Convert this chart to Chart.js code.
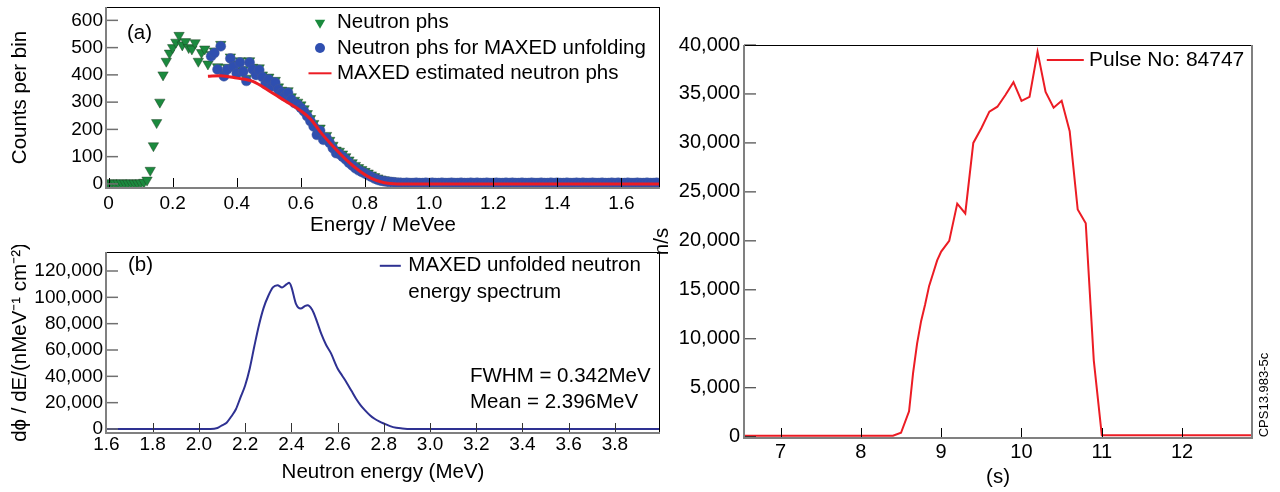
<!DOCTYPE html>
<html>
<head>
<meta charset="utf-8">
<script src="https://cdn.jsdelivr.net/npm/chart.js@4.4.1/dist/chart.umd.min.js"></script>
<style>
  html, body { margin: 0; padding: 0; background: #fff; }
  #figure { position: relative; width: 1280px; height: 492px; overflow: hidden; }
  canvas { position: absolute; }
  #phs { left: 0; top: 0; }
  #spectrum { left: 0; top: 245px; }
  #pulse { left: 640px; top: 0; }
</style>
</head>
<body>
<div id="figure">
  <canvas id="phs" width="670" height="245"></canvas>
  <canvas id="spectrum" width="670" height="247"></canvas>
  <canvas id="pulse" width="640" height="492"></canvas>
</div>
<script>
// (a) pulse height spectrum, one value per 0.01 MeVee bin starting at 0
var BIN_WIDTH = 0.01;
var PHS_COUNTS = [
  3, 4, 3, 3, 4, 3, 3, 4, 3, 3, 4,
  6, 14, 50, 140, 225, 300, 400, 450, 480, 500,
  520, 545, 510, 522, 500, 495, 518, 450, 482, 495, 440,
  475, 488, 430, 512, 405, 428, 466, 440, 414, 452,
  420, 388, 452, 428, 410, 426, 400, 376, 392, 368,
  380, 356, 344, 332, 342, 320, 307, 300, 290, 276,
  258, 240, 222, 192, 205, 174, 178, 160, 142, 124,
  120, 110, 100, 88, 78, 68, 60, 53, 46, 40,
  33, 27, 22, 18, 15, 13, 11, 10,
  9, 8, 8, 7, 8, 7, 7, 8, 6, 7,
  7, 8, 7, 6, 7, 8, 7, 7, 6, 7,
  8, 7, 6, 7, 7, 8, 7, 6, 7, 7,
  6, 7, 8, 7, 7, 6, 7, 7, 8, 7,
  6, 7, 7, 6, 7, 8, 7, 7, 6, 7,
  7, 8, 7, 6, 7, 7, 6, 7, 8, 7,
  7, 6, 7, 7, 8, 7, 6, 7, 7, 6,
  7, 8, 7, 7, 6, 7, 7, 8, 7, 6,
  7, 7
];
// bins used for the MAXED unfolding start at 0.32 MeVee
var UNFOLD_FIRST_BIN = 32;
var UNFOLD_COUNTS = [
  468, 480, 420, 505, 395, 420, 460, 430, 405, 445,
  412, 378, 445, 420, 400, 418, 392, 366, 383, 358,
  372, 346, 334, 322, 334, 310, 297, 291, 279, 266,
  248, 230, 211, 180, 195, 162, 168, 150, 131, 113,
  110, 100, 90, 78, 68, 58, 50, 44, 38, 32,
  26, 20, 15, 12, 10, 8, 7, 6,
  4, 4, 3, 4, 3, 3, 4, 3, 3, 4,
  3, 4, 3, 3, 4, 3, 3, 4, 3, 3,
  4, 3, 3, 4, 3, 4, 3, 3, 4, 3,
  3, 4, 3, 3, 4, 3, 4, 3, 3, 4,
  3, 3, 4, 3, 3, 4, 3, 3, 4, 3,
  4, 3, 3, 4, 3, 3, 4, 3, 4, 3,
  3, 4, 3, 3, 4, 3, 3, 4, 3, 4,
  3, 3, 4, 3, 3, 4, 3, 3, 4, 3,
  3, 4
];
var MAXED_E = [0.31, 0.35, 0.40, 0.45, 0.50, 0.55, 0.60, 0.63, 0.66, 0.70, 0.74, 0.78, 0.82, 0.86, 0.90, 1.0, 1.2, 1.4, 1.6, 1.72];
var MAXED_COUNTS = [395, 397, 388, 376, 342, 305, 268, 238, 192, 138, 90, 50, 20, 4, 0, 0, 0, 0, 0, 0];
var PHS_X_TICKS = [0, 0.2, 0.4, 0.6, 0.8, 1.0, 1.2, 1.4, 1.6];
var PHS_Y_TICKS = [0, 100, 200, 300, 400, 500, 600];

// (b) unfolded neutron energy spectrum
var SPEC_E = [1.6, 1.8, 2.0, 2.05, 2.08, 2.10, 2.12, 2.14, 2.16, 2.18, 2.20, 2.22, 2.24, 2.26, 2.28, 2.30,
  2.32, 2.34, 2.36, 2.38, 2.39, 2.40, 2.42, 2.44, 2.46, 2.47, 2.49, 2.51, 2.53, 2.55, 2.57, 2.60,
  2.62, 2.64, 2.66, 2.68, 2.70, 2.72, 2.74, 2.76, 2.78, 2.80, 2.84, 2.88, 2.92, 3.0, 3.5, 4.0];
var SPEC_FLUX = [0, 0, 0, 0, 800, 2800, 4800, 9500, 15000, 24000, 33000, 46000, 63000, 79000, 92000, 101000,
  107500, 109200, 107500, 110000, 111000, 108000, 95000, 91500, 93500, 94000, 90500, 82000, 72000, 64000, 58000, 46000,
  40500, 35000, 29000, 23000, 18000, 14000, 10500, 7800, 5800, 4200, 1400, 400, 0, 0, 0, 0];
var SPEC_X_TICKS = [1.6, 1.8, 2.0, 2.2, 2.4, 2.6, 2.8, 3.0, 3.2, 3.4, 3.6, 3.8];
var SPEC_Y_TICKS = [0, 20000, 40000, 60000, 80000, 100000, 120000];

// (c) neutron rate for pulse 84747
var PULSE_T = [6.5, 7.0, 7.5, 8.0, 8.4, 8.5, 8.6, 8.65, 8.7, 8.75, 8.8, 8.85, 8.9, 8.95, 9.0,
  9.1, 9.2, 9.3, 9.4, 9.5, 9.6, 9.7, 9.8, 9.9, 10.0, 10.1, 10.2, 10.3, 10.4, 10.5, 10.6,
  10.7, 10.8, 10.9, 11.0, 11.5, 12.0, 12.5, 12.9];
var PULSE_RATE = [100, 100, 100, 100, 100, 400, 2600, 6500, 9500, 11800, 13500, 15400, 16700, 18000, 18900,
  20000, 23800, 22800, 30000, 31500, 33200, 33700, 34900, 36200, 34300, 34700, 39300, 35200, 33600, 34300, 31200,
  23200, 21800, 7800, 150, 150, 150, 150, 150];
var PULSE_X_TICKS = [7, 8, 9, 10, 11, 12];
var PULSE_Y_TICKS = [0, 5000, 10000, 15000, 20000, 25000, 30000, 35000, 40000];

var GREEN = "#1b8a3e";
var BLUE = "#2f4fb0";
var RED = "#ec1c24";
var NAVY = "#2e3192";
var AXIS_GRAY = "#808080";
var FONT = "'Liberation Sans', Arial, Helvetica, sans-serif";

Chart.defaults.font.family = FONT;
Chart.defaults.color = "#000";

function pairs(xs, ys) {
    return xs.map(function (x, i) { return { x: x, y: ys[i] }; });
}

function binned(counts, firstBin) {
    return counts.map(function (c, i) { return { x: (firstBin + i) * BIN_WIDTH, y: c }; });
}

// left/bottom gray axes, thin black top/right edges, ticks pointing inward
var framePlugin = {
    id: "frame",
    afterDatasetsDraw: function (chart, args, opts) {
        var ctx = chart.ctx, a = chart.chartArea;
        var xs = chart.scales.x, ys = chart.scales.y;
        ctx.save();
        ctx.lineWidth = 1;
        ctx.strokeStyle = opts.xTickColor;
        xs.ticks.forEach(function (t) {
            var px = Math.round(xs.getPixelForValue(t.value)) + 0.5;
            ctx.beginPath();
            ctx.moveTo(px, a.bottom);
            ctx.lineTo(px, a.bottom - opts.xTickLength);
            ctx.stroke();
        });
        ctx.lineWidth = opts.yTickWidth;
        ctx.strokeStyle = opts.yTickColor;
        ys.ticks.forEach(function (t) {
            var py = ys.getPixelForValue(t.value);
            ctx.beginPath();
            ctx.moveTo(a.left, py);
            ctx.lineTo(a.left + opts.yTickLength, py);
            ctx.stroke();
        });
        ctx.lineWidth = 1;
        ctx.strokeStyle = "#000";
        ctx.beginPath();
        ctx.moveTo(a.left, a.top + 0.5);
        ctx.lineTo(a.right, a.top + 0.5);
        if (!opts.rightAxis) {
            ctx.moveTo(a.right - 0.5, a.top);
            ctx.lineTo(a.right - 0.5, a.bottom);
        }
        ctx.stroke();
        ctx.lineWidth = 2;
        ctx.strokeStyle = AXIS_GRAY;
        ctx.beginPath();
        ctx.moveTo(a.left, a.top);
        ctx.lineTo(a.left, a.bottom);
        ctx.lineTo(a.right, a.bottom);
        if (opts.rightAxis) {
            ctx.lineTo(a.right, a.top);
        }
        ctx.stroke();
        ctx.restore();
    },
};

function drawKey(ctx, ds, x, y, width) {
    ctx.save();
    if (ds.showLine === false) {
        var r = ds.pointRadius;
        ctx.fillStyle = ds.pointBackgroundColor;
        ctx.beginPath();
        if (ds.pointStyle === "triangle") {
            ctx.moveTo(x, y + r);
            ctx.lineTo(x - r * 0.866, y - r / 2);
            ctx.lineTo(x + r * 0.866, y - r / 2);
            ctx.closePath();
        } else {
            ctx.arc(x, y, r, 0, Math.PI * 2);
        }
        ctx.fill();
    } else {
        ctx.strokeStyle = ds.borderColor;
        ctx.lineWidth = 2;
        ctx.beginPath();
        ctx.moveTo(x - width / 2, y);
        ctx.lineTo(x + width / 2, y);
        ctx.stroke();
    }
    ctx.restore();
}

var insetLegendPlugin = {
    id: "insetLegend",
    afterDraw: function (chart, args, opts) {
        if (opts.x === undefined) {
            return;
        }
        var ctx = chart.ctx;
        var y = opts.y;
        ctx.save();
        ctx.font = opts.font;
        ctx.fillStyle = "#000";
        ctx.textAlign = "left";
        ctx.textBaseline = "middle";
        chart.data.datasets.forEach(function (ds) {
            var lines = [].concat(ds.label);
            drawKey(ctx, ds, opts.x, y, opts.keyWidth);
            lines.forEach(function (line, k) {
                ctx.fillText(line, opts.x + opts.textGap, y + k * opts.lineHeight);
            });
            y += lines.length * opts.lineHeight;
        });
        ctx.restore();
    },
};

var notesPlugin = {
    id: "notes",
    afterDraw: function (chart, args, opts) {
        var ctx = chart.ctx;
        (opts.items || []).forEach(function (n) {
            ctx.save();
            ctx.font = n.font;
            ctx.fillStyle = "#000";
            ctx.textAlign = n.align || "left";
            ctx.textBaseline = "middle";
            ctx.translate(n.x, n.y);
            if (n.rotate) {
                ctx.rotate(n.rotate);
            }
            ctx.fillText(n.text, 0, 0);
            ctx.restore();
        });
    },
};

Chart.register(framePlugin, insetLegendPlugin, notesPlugin);

function linearAxis(cfg) {
    var horizontal = cfg.horizontal;
    return {
        type: "linear",
        min: cfg.min,
        max: cfg.max,
        grid: { display: false, drawTicks: false },
        border: { display: false },
        afterBuildTicks: function (scale) {
            scale.ticks = cfg.ticks.map(function (v) { return { value: v }; });
        },
        ticks: {
            autoSkip: false,
            maxRotation: 0,
            padding: cfg.tickPadding,
            font: { size: cfg.tickSize },
            callback: cfg.format,
        },
        title: {
            display: true,
            text: cfg.title,
            align: cfg.titleAlign || "center",
            font: { size: cfg.titleSize },
            padding: horizontal ? { top: 0, bottom: cfg.titlePadding } : { top: cfg.titlePadding, bottom: 0 },
        },
        afterFit: function (scale) {
            if (horizontal) {
                scale.height = cfg.size;
                scale.paddingLeft = 0;
                scale.paddingRight = 0;
            } else {
                scale.width = cfg.size;
                scale.paddingTop = 0;
                scale.paddingBottom = 0;
            }
        },
    };
}

function decimal(v) {
    return Math.abs(v) < 1e-9 ? "0" : v.toFixed(1);
}

function thousands(v) {
    return Math.round(v).toLocaleString("en-US");
}

function plain(v) {
    return String(v);
}

var baseOptions = {
    responsive: false,
    animation: false,
    events: [],
};

new Chart(document.getElementById("phs"), {
    type: "scatter",
    data: {
        datasets: [
            {
                label: "Neutron phs",
                data: binned(PHS_COUNTS, 0),
                showLine: false,
                pointStyle: "triangle",
                pointRotation: 180,
                pointRadius: 6,
                pointBackgroundColor: GREEN,
                pointBorderColor: "rgba(30,60,35,0.45)",
                pointBorderWidth: 1,
                order: 3,
            },
            {
                label: "Neutron phs for MAXED unfolding",
                data: binned(UNFOLD_COUNTS, UNFOLD_FIRST_BIN),
                showLine: false,
                pointStyle: "circle",
                pointRadius: 5,
                pointBackgroundColor: BLUE,
                pointBorderColor: "rgba(70,90,150,0.45)",
                pointBorderWidth: 1,
                order: 2,
            },
            {
                label: "MAXED estimated neutron phs",
                data: pairs(MAXED_E, MAXED_COUNTS),
                showLine: true,
                borderColor: RED,
                borderWidth: 3,
                pointRadius: 0,
                cubicInterpolationMode: "monotone",
                order: 1,
            },
        ],
    },
    options: Object.assign({}, baseOptions, {
        layout: { padding: { top: 7, right: 10, bottom: 0, left: 0 } },
        scales: {
            x: linearAxis({ horizontal: true, min: -0.008, max: 1.7205, ticks: PHS_X_TICKS, tickPadding: 4, tickSize: 19,
                format: decimal, title: "Energy / MeVee", titleSize: 20.5, titlePadding: 7, size: 57 }),
            y: linearAxis({ horizontal: false, min: -15, max: 649, ticks: PHS_Y_TICKS, tickPadding: 3, tickSize: 19,
                format: plain, title: "Counts per bin", titleSize: 20.5, titlePadding: 8.5, size: 106 }),
        },
        plugins: {
            legend: { display: false },
            tooltip: { enabled: false },
            frame: { xTickColor: "#000", xTickLength: 10, yTickColor: "#707070", yTickWidth: 1.5, yTickLength: 12 },
            insetLegend: { x: 320, y: 22.7, keyWidth: 23, textGap: 17, lineHeight: 25.3, font: "20.5px " + FONT },
            notes: { items: [{ text: "(a)", x: 127, y: 33, font: "20.5px " + FONT }] },
        },
    }),
});

new Chart(document.getElementById("spectrum"), {
    type: "scatter",
    data: {
        datasets: [
            {
                label: ["MAXED unfolded neutron", "energy spectrum"],
                data: pairs(SPEC_E, SPEC_FLUX),
                showLine: true,
                borderColor: NAVY,
                borderWidth: 2,
                pointRadius: 0,
                cubicInterpolationMode: "monotone",
            },
        ],
    },
    options: Object.assign({}, baseOptions, {
        layout: { padding: { top: 7, right: 10, bottom: 0, left: 0 } },
        scales: {
            x: linearAxis({ horizontal: true, min: 1.598, max: 3.995, ticks: SPEC_X_TICKS, tickPadding: 0, tickSize: 19,
                format: decimal, title: "Neutron energy (MeV)", titleSize: 20.5, titlePadding: 7.5, size: 59 }),
            y: linearAxis({ horizontal: false, min: -3040, max: 134430, ticks: SPEC_Y_TICKS, tickPadding: 3, tickSize: 19,
                format: thousands, title: "d\u03d5 / dE/(nMeV\u207b\u00b9 cm\u207b\u00b2)", titleSize: 20.5, titlePadding: 8, size: 106 }),
        },
        plugins: {
            legend: { display: false },
            tooltip: { enabled: false },
            frame: { xTickColor: "#333", xTickLength: 10, yTickColor: "#707070", yTickWidth: 1.5, yTickLength: 12 },
            insetLegend: { x: 390.3, y: 20.8, keyWidth: 21, textGap: 18, lineHeight: 26.3, font: "20.5px " + FONT },
            notes: { items: [
                { text: "(b)", x: 128, y: 20, font: "20.5px " + FONT },
                { text: "FWHM = 0.342MeV", x: 470, y: 131.7, font: "20.5px " + FONT },
                { text: "Mean = 2.396MeV", x: 470, y: 157, font: "20.5px " + FONT },
            ] },
        },
    }),
});

new Chart(document.getElementById("pulse"), {
    type: "scatter",
    data: {
        datasets: [
            {
                label: "Pulse No: 84747",
                data: pairs(PULSE_T, PULSE_RATE),
                showLine: true,
                borderColor: RED,
                borderWidth: 2,
                pointRadius: 0,
                tension: 0,
            },
        ],
    },
    options: Object.assign({}, baseOptions, {
        layout: { padding: { top: 45, right: 28, bottom: 0, left: 0 } },
        scales: {
            x: linearAxis({ horizontal: true, min: 6.545, max: 12.87, ticks: PULSE_X_TICKS, tickPadding: 2, tickSize: 20,
                format: plain, title: "(s)", titleSize: 20.5, titlePadding: 2, size: 54 }),
            y: linearAxis({ horizontal: false, min: -130, max: 40000, ticks: PULSE_Y_TICKS, tickPadding: 4, tickSize: 20,
                format: thousands, title: "n/s", titleSize: 20.5, titlePadding: 10, size: 104 }),
        },
        plugins: {
            legend: { display: false },
            tooltip: { enabled: false },
            frame: { xTickColor: "#000", xTickLength: 10, yTickColor: "#222", yTickWidth: 1, yTickLength: 12, rightAxis: true },
            insetLegend: { x: 425.3, y: 60, keyWidth: 37, textGap: 23.7, lineHeight: 26, font: "21px " + FONT },
            notes: { items: [
                { text: "CPS13.983-5c", x: 624, y: 395, font: "13px " + FONT, align: "center", rotate: -Math.PI / 2 },
            ] },
        },
    }),
});
</script>
</body>
</html>
